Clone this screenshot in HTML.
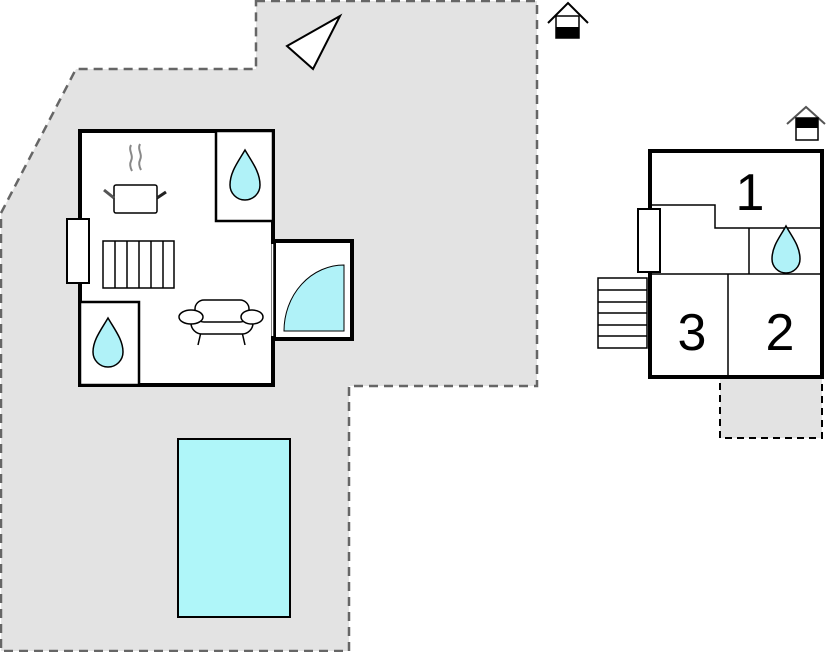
<!DOCTYPE html>
<html><head><style>body{margin:0;background:#fff}svg{display:block}</style></head><body>
<svg width="828" height="652" viewBox="0 0 828 652" xmlns="http://www.w3.org/2000/svg">
<polygon points="256,1 537,1 537,386 349,386 349,651 1,651 1,213 76,69 256,69" fill="#e3e3e3" stroke="#666" stroke-width="2.5" stroke-dasharray="9,6"/>
<polygon points="287,46 340,16 313,69" fill="#fff" stroke="#000" stroke-width="2"/>
<polyline points="548,23 568,3 588,23" fill="none" stroke="#000" stroke-width="2"/>
<rect x="556" y="16" width="23" height="22" fill="#fff" stroke="#000" stroke-width="1.5"/>
<rect x="556" y="27" width="23" height="11" fill="#000"/>
<rect x="80" y="131" width="193" height="254" fill="#fff" stroke="#000" stroke-width="4"/>
<rect x="274" y="241" width="78" height="98" fill="#fff" stroke="#000" stroke-width="4"/>
<line x1="273" y1="244" x2="273" y2="336" stroke="#fff" stroke-width="3"/>
<line x1="274" y1="242" x2="274" y2="338" stroke="#000" stroke-width="1.5"/>
<path d="M344,265 A60,66 0 0 0 284,331 L344,331 Z" fill="#b0f2f8" stroke="#000" stroke-width="1"/>
<rect x="216" y="131" width="57" height="90" fill="#fff" stroke="#000" stroke-width="2.5"/>
<rect x="80" y="302" width="59" height="83" fill="#fff" stroke="#000" stroke-width="2.5"/>
<path d="M245,150 C238,162 230,172 230,185 A15,15 0 0 0 260,185 C260,172 252,162 245,150 Z" fill="#b0f2f8" stroke="#000" stroke-width="1.5"/>
<path d="M108,318 C101,330 93,340 93,352 A15,15 0 0 0 123,352 C123,340 115,330 108,318 Z" fill="#b0f2f8" stroke="#000" stroke-width="1.5"/>
<rect x="67" y="219" width="22" height="64" fill="#fff" stroke="#000" stroke-width="2"/>
<rect x="103" y="241" width="71" height="47" fill="#fff" stroke="#000" stroke-width="1.5"/>
<g stroke="#000" stroke-width="1.5"><line x1="115" y1="241" x2="115" y2="288"/><line x1="127" y1="241" x2="127" y2="288"/><line x1="139" y1="241" x2="139" y2="288"/><line x1="151" y1="241" x2="151" y2="288"/><line x1="163" y1="241" x2="163" y2="288"/></g>
<rect x="114" y="185" width="43" height="28" rx="2" fill="#fff" stroke="#000" stroke-width="1.5"/>
<line x1="104" y1="190" x2="114" y2="198" stroke="#555" stroke-width="3"/>
<line x1="157" y1="198" x2="166" y2="192" stroke="#222" stroke-width="3"/>
<path d="M131,145 c-3,6 3,10 0,16 c-2,4 0,8 1,10 M140,144 c-3,6 3,10 0,16 c-2,4 0,8 1,10" fill="none" stroke="#888" stroke-width="2"/>
<!-- armchair -->
<line x1="201" y1="332" x2="198" y2="345" stroke="#000" stroke-width="1.5"/>
<line x1="242" y1="332" x2="245" y2="345" stroke="#000" stroke-width="1.5"/>
<rect x="191" y="310" width="62" height="24" rx="11" fill="#fff" stroke="#000" stroke-width="1.5"/>
<rect x="195" y="300" width="54" height="22" rx="9" fill="#fff" stroke="#000" stroke-width="1.5"/>
<ellipse cx="191" cy="317" rx="12" ry="7" fill="#fff" stroke="#000" stroke-width="1.5"/>
<ellipse cx="252" cy="317" rx="11" ry="7" fill="#fff" stroke="#000" stroke-width="1.5"/>
<rect x="178" y="439" width="112" height="178" fill="#aff6f9" stroke="#000" stroke-width="2"/>
<rect x="720" y="378" width="102" height="60" fill="#e3e3e3" stroke="#000" stroke-width="2" stroke-dasharray="7,5"/>
<rect x="650" y="151" width="172" height="226" fill="#fff" stroke="#000" stroke-width="4"/>
<g stroke="#000" stroke-width="1.5" fill="none">
<line x1="650" y1="274" x2="822" y2="274"/>
<line x1="728" y1="274" x2="728" y2="377"/>
<polyline points="652,205 715,205 715,228 822,228"/>
<line x1="749" y1="228" x2="749" y2="274"/>
</g>
<path d="M786,226 C780,237 772,246 772,259 A14,14 0 0 0 800,259 C800,246 792,237 786,226 Z" fill="#b0f2f8" stroke="#000" stroke-width="1.5"/>
<rect x="638" y="209" width="22" height="63" fill="#fff" stroke="#000" stroke-width="2"/>
<rect x="598" y="278" width="49" height="70" fill="#fff" stroke="#000" stroke-width="1.5"/>
<g stroke="#000" stroke-width="1.5"><line x1="598" y1="290" x2="647" y2="290"/><line x1="598" y1="302" x2="647" y2="302"/><line x1="598" y1="313" x2="647" y2="313"/><line x1="598" y1="325" x2="647" y2="325"/><line x1="598" y1="336" x2="647" y2="336"/></g>
<g font-family="Liberation Sans, sans-serif" font-size="52" fill="#000" text-anchor="middle">
<text x="750" y="210">1</text>
<text x="780" y="350">2</text>
<text x="692" y="350">3</text>
</g>
<polyline points="787,124 806,107 825,124" fill="none" stroke="#555" stroke-width="2"/>
<rect x="796" y="118" width="22" height="22" fill="#fff" stroke="#000" stroke-width="1.5"/>
<rect x="796" y="118" width="22" height="10" fill="#000"/>
</svg>
</body></html>
